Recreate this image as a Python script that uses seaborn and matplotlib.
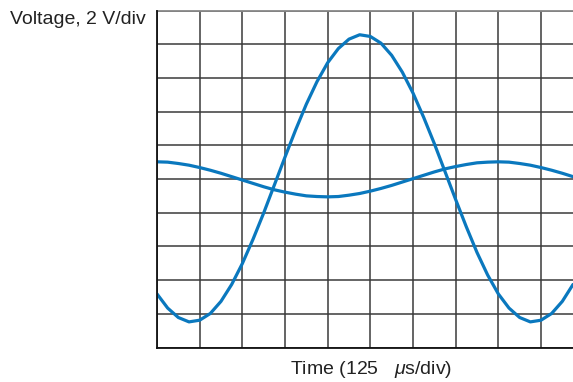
import matplotlib
matplotlib.use("Agg")
import matplotlib.pyplot as plt
import seaborn as sns
import pandas as pd
import numpy as np

# Time in divisions (125 us/div), voltage in divisions (2 V/div)
time_div = [0.0, 0.25, 0.5, 0.75, 1.0, 1.25, 1.5, 1.75, 2.0, 2.25,
            2.5, 2.75, 3.0, 3.25, 3.5, 3.75, 4.0, 4.25, 4.5, 4.75,
            5.0, 5.25, 5.5, 5.75, 6.0, 6.25, 6.5, 6.75, 7.0, 7.25,
            7.5, 7.75, 8.0, 8.25, 8.5, 8.75, 9.0, 9.25, 9.5, 9.75]
large_signal = [1.59, 1.17, 0.89, 0.76, 0.81, 1.01, 1.37, 1.87, 2.49, 3.21,
                3.99, 4.82, 5.65, 6.46, 7.22, 7.89, 8.45, 8.87, 9.15, 9.28,
                9.23, 9.03, 8.67, 8.17, 7.55, 6.83, 6.05, 5.22, 4.39, 3.58,
                2.82, 2.15, 1.59, 1.17, 0.89, 0.76, 0.81, 1.01, 1.37, 1.87]
small_signal = [5.51, 5.50, 5.46, 5.41, 5.34, 5.26, 5.17, 5.07, 4.97, 4.87,
                4.77, 4.68, 4.61, 4.55, 4.50, 4.48, 4.47, 4.48, 4.52, 4.57,
                4.64, 4.72, 4.81, 4.91, 5.01, 5.11, 5.21, 5.30, 5.37, 5.43,
                5.48, 5.50, 5.51, 5.50, 5.46, 5.41, 5.34, 5.26, 5.17, 5.07]
x_grid = list(range(0, 10))
y_grid = list(range(0, 11))

sns.set_style("white")
plt.rcParams['font.family'] = ['Liberation Sans', 'DejaVu Sans']
plt.rcParams['mathtext.fontset'] = 'custom'
plt.rcParams['mathtext.it'] = 'Liberation Sans:italic'
plt.rcParams['mathtext.rm'] = 'Liberation Sans'

fig = plt.figure(figsize=(5.73, 3.82), dpi=100)
ax = fig.add_axes([157/573, 1 - 347.5/382, 1 - 157/573, (347.5 - 10.5)/382])

df = pd.DataFrame({"t": time_div, "big": large_signal, "small": small_signal})
blue = "#0A78BE"
sns.lineplot(data=df, x="t", y="big", ax=ax, color=blue, lw=2.3)
sns.lineplot(data=df, x="t", y="small", ax=ax, color=blue, lw=2.3)
for ln in ax.get_lines():
    ln.set_solid_joinstyle("round")

ax.set_xlim(0, 9.75)
ax.set_ylim(0, 10)
ax.set_xticks(x_grid)
ax.set_yticks(y_grid)
ax.tick_params(length=0, labelbottom=False, labelleft=False)
ax.grid(True, color="#3a3a3a", lw=1.1)
ax.set_axisbelow(True)
for s in ["top", "right"]:
    ax.spines[s].set_visible(False)
for s in ["left", "bottom"]:
    ax.spines[s].set_color("#111111")
    ax.spines[s].set_linewidth(1.3)
ax.axhline(10, color="#888888", lw=1.3, clip_on=False)
ax.set_xlabel("")
ax.set_ylabel("")

fig.text(10/573, 1 - 20/382, "Voltage, 2 V/div", fontsize=14, color="#222222",
         ha="left", va="center")
fig.text(371/573, 1 - 369/382, r"Time (125   $\mu$s/div)", fontsize=14, color="#222222",
         ha="center", va="center")

fig.savefig("out.png", dpi=100)
